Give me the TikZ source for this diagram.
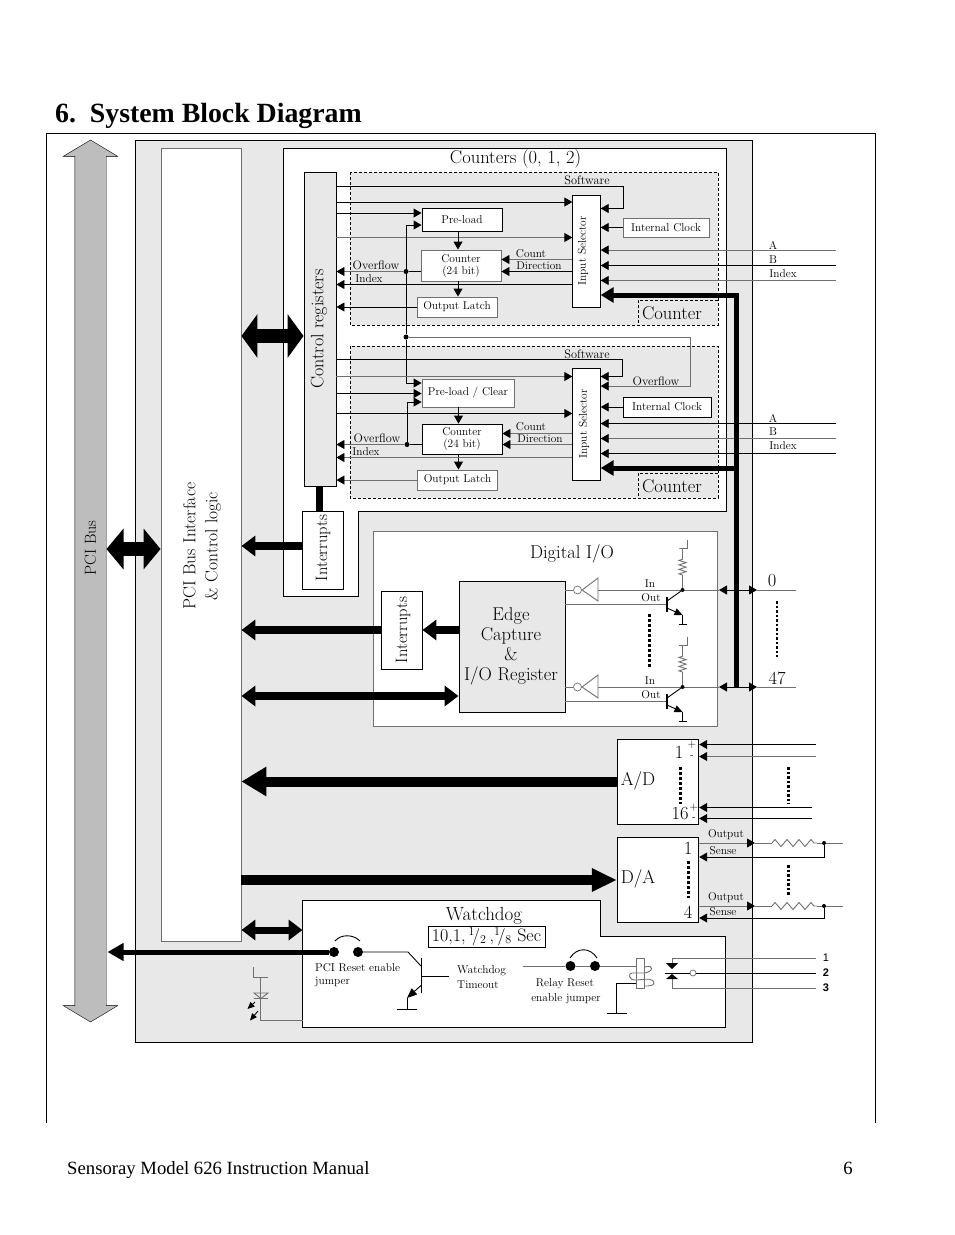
\documentclass[tikz,border=0pt]{standalone}
\usepackage{fontspec}
\newfontfamily\titlefont{Liberation Serif}
\newfontfamily\relayfont{Liberation Sans}
\usetikzlibrary{arrows.meta,shapes.arrows,decorations.pathmorphing}
\definecolor{panelgray}{HTML}{E8E8E8}
\definecolor{busgray}{HTML}{BDBDBD}
\definecolor{linegray}{HTML}{707070}
\tikzset{
  blockbox/.style={draw=black,fill=white,line width=.9pt,inner sep=0pt,align=center},
  grayblock/.style={blockbox,draw=linegray},
  size/.style 2 args={minimum width=#1pt,minimum height=#2pt},
  tinytext/.style={inner sep=0pt,font=\fontsize{11.4}{12}\selectfont,align=center},
  labeltext/.style={inner sep=0pt,font=\fontsize{12.3}{13}\selectfont,align=center},
  bigtext/.style={inner sep=0pt,font=\fontsize{18.5}{20}\selectfont,align=center},
  wire/.style={line width=.9pt},
  gwire/.style={line width=.9pt,draw=linegray},
  tipwire/.style={wire,-{Triangle[length=8pt,width=9pt,black]}},
  gtipwire/.style={gwire,-{Triangle[length=8pt,width=9pt,black]}},
  fatbus/.style n args={3}{line width=#1pt,-{Triangle[length=#2pt,width=#3pt]}},
  fatboth/.style n args={3}{line width=#1pt,{Triangle[length=#2pt,width=#3pt]}-{Triangle[length=#2pt,width=#3pt]}},
  joint/.style={circle,fill=black,inner sep=0pt,minimum size=5pt},
  jumperpin/.style={circle,fill=black,inner sep=0pt,minimum size=10pt},
  dotsline/.style={line width=3pt,dash pattern=on 3pt off 2pt},
  finedots/.style={line width=2.2pt,dash pattern=on 2.5pt off 2pt},
  panel/.style={draw=black,line width=.9pt},
  zig/.style={decorate,decoration={zigzag,segment length=#1,amplitude=3.5pt}},
}
\begin{document}
\begin{tikzpicture}[x=1pt,y=-1pt]
  \useasboundingbox (0,0) rectangle (954,1235);
  % page text
  \node[anchor=base west,inner sep=0pt,font=\titlefont\bfseries\fontsize{27.8}{30}\selectfont] (title) at (55,122) {6.\ \ System Block Diagram};
  \node[anchor=base west,inner sep=0pt,font=\titlefont\fontsize{18.7}{20}\selectfont] (footer) at (67,1174) {Sensoray Model 626 Instruction Manual};
  \node[anchor=base east,inner sep=0pt,font=\titlefont\fontsize{18.7}{20}\selectfont] (pagenum) at (853,1174) {6};
  \draw[panel] (46,1123) -- (46,133) -- (875,133) -- (875,1123);

  % panels
  \draw[panel,fill=panelgray] (135.5,140) rectangle (752,1042);
  \draw[panel,fill=white] (283,148) -- (726,148) -- (726,511) -- (358,511) -- (358,596) -- (283,596) -- cycle;
  \draw[panel,fill=white] (302.5,900.5) -- (600,900.5) -- (600,936.5) -- (725.5,936.5) -- (725.5,1027.5) -- (302.5,1027.5) -- cycle;
  \node[grayblock,size={344}{195}] (dio) at (545,628.5) {};
  \draw[densely dashed,fill=panelgray,line width=.7pt] (350,172) rectangle (718,325);
  \draw[densely dashed,fill=panelgray,line width=.7pt] (350,346) rectangle (718,498);
  \draw[densely dashed,line width=.7pt] (718,300) -- (638,300) -- (638,325);
  \draw[densely dashed,line width=.7pt] (718,473) -- (638,473) -- (638,498);

  % main blocks
  \node[draw=black,fill=busgray,shape=double arrow,rotate=90,minimum height=882pt,minimum width=54pt,
    double arrow head extend=11.5pt,double arrow head indent=0pt,double arrow tip angle=118,inner sep=0pt] (pcibus) at (90.5,581) {\rule{0pt}{31pt}};
  \node[rotate=90,inner sep=0pt,font=\fontsize{16}{18}\selectfont] (pcilabel) at (90.5,548) {PCI Bus};
  \node[grayblock,size={80}{793},] (pciif) at (201,544.5) {};
  \node[rotate=90,bigtext,font=\fontsize{17.5}{22}\selectfont] (pcitext) at (202,546) {PCI Bus Interface\\\& Control logic};
  \node[blockbox,fill=panelgray,size={32}{314}] (ctrl) at (320,329) {};
  \node[rotate=90,bigtext,font=\fontsize{18}{20}\selectfont] (ctrltext) at (319,329) {Control registers};
  \node[blockbox,size={41}{78}] (intc) at (322.5,550) {};
  \node[rotate=90,bigtext,font=\fontsize{16.5}{18}\selectfont] (intctext) at (323,548) {Interrupts};
  \node[blockbox,size={41}{78}] (intd) at (401.5,630) {};
  \node[rotate=90,bigtext,font=\fontsize{16.5}{18}\selectfont] (intdtext) at (403,630) {Interrupts};
  \node[blockbox,fill=panelgray,size={106}{131}] (edge) at (512,646.5) {};
  \node[bigtext] (edgetext) at (511,646) {Edge\\Capture\\\&\\I/O Register};
  \node[blockbox,size={81.5}{85}] (adc) at (658,781.5) {};
  \node[blockbox,size={81.5}{85}] (dac) at (658,879.5) {};
  \node[bigtext] (adctext) at (638,781) {A/D};
  \node[bigtext] (dactext) at (638,879) {D/A};

  % titles
  \node[bigtext] (cnttitle) at (515.5,159) {Counters (0, 1, 2)};
  \node[bigtext] (diotitle) at (572,554) {Digital I/O};
  \node[bigtext,font=\fontsize{19}{20}\selectfont] (wdtitle) at (484,915.5) {Watchdog};
  \node[blockbox,bigtext,font=\fontsize{18}{20}\selectfont,draw=black,line width=.9pt,size={117}{21},inner sep=0pt] (wdtime) at (486.5,936.5) {10,1,\,$^1\!/_2$\,,$^1\!/_8$ Sec};
  \node[bigtext] (cntlabel1) at (672,313) {Counter};
  \node[bigtext] (cntlabel2) at (672,486) {Counter};

  % counter 1 blocks
  \node[blockbox,tinytext,size={80}{23}] (load1) at (462,219.5) {Pre-load};
  \node[grayblock,tinytext,size={80}{31}] (count1) at (461,265.5) {Counter\\(24 bit)};
  \node[grayblock,tinytext,size={80}{20}] (latch1) at (457,307) {Output Latch};
  \node[blockbox,size={27.5}{112}] (sel1) at (586.5,251) {};
  \node[rotate=90,tinytext] (seltext1) at (583,251) {Input Selector};
  \node[grayblock,tinytext,size={86}{19}] (clock1) at (666,227.5) {Internal Clock};
  % counter 2 blocks
  \node[grayblock,tinytext,size={92}{28}] (load2) at (468,393) {Pre-load / Clear};
  \node[blockbox,tinytext,size={80}{30}] (count2) at (462,439) {Counter\\(24 bit)};
  \node[grayblock,tinytext,size={80}{20}] (latch2) at (457.5,480) {Output Latch};
  \node[blockbox,size={27.5}{112}] (sel2) at (586.5,424) {};
  \node[rotate=90,tinytext] (seltext2) at (584,424) {Input Selector};
  \node[blockbox,tinytext,size={88}{20}] (clock2) at (667,407) {Internal Clock};

  % free ends and joints
  \coordinate (a1) at (836,250);
  \coordinate (b1) at (836,265.5);
  \coordinate (i1) at (836,280.5);
  \coordinate (a2) at (836,423.5);
  \coordinate (b2) at (836,438.5);
  \coordinate (i2) at (836,453.5);
  \node[joint] (ovf1) at (406,271.5) {};
  \node[joint] (ovf2) at (407,444.5) {};
  \node[joint] (carry) at (406,337) {};

  % counter 1 wires
  \draw[tipwire] (ctrl.east |- 0,186.5) -| (623,208.5) -- (sel1.east |- 0,208.5);
  \draw[tipwire] (ctrl.east |- 0,202) to (sel1.west |- 0,202);
  \draw[tipwire] (ctrl.east |- 0,213) to (load1.west |- 0,213);
  \draw[gtipwire] (ctrl.east |- 0,237.5) to (sel1.west |- 0,237.5);
  \draw[tipwire] (carry) |- (load1.west |- 0,225);
  \draw[tipwire] (load1.south -| 458,0) to (count1.north -| 458,0);
  \draw[tipwire] (count1.south -| 458,0) to (latch1.north -| 458,0);
  \draw[gtipwire] (sel1.west |- 0,259.5) to (count1.east |- 0,259.5);
  \draw[tipwire] (sel1.west |- 0,271.5) to (count1.east |- 0,271.5);
  \draw[wire] (count1.west |- ovf1) to (ovf1);
  \draw[gtipwire] (ovf1) to (ctrl.east |- ovf1);
  \draw[tipwire] (sel1.west |- 0,284.5) to (ctrl.east |- 0,284.5);
  \draw[tipwire] (latch1) to (ctrl.east |- latch1);
  \draw[tipwire] (clock1) to (sel1.east |- clock1);
  \draw[gtipwire] (a1) to (sel1.east |- a1);
  \draw[tipwire] (b1) to (sel1.east |- b1);
  \draw[gtipwire] (i1) to (sel1.east |- i1);

  % counter 2 wires
  \draw[gtipwire] (carry) -- (690,337) |- (sel2.east |- 0,386);
  \draw[tipwire] (carry) |- (load2.west |- 0,383);
  \draw[tipwire] (ctrl.east |- 0,359.5) -| (622,376.5) -- (sel2.east |- 0,376.5);
  \draw[gtipwire] (ctrl.east |- 0,376.5) to (sel2.west |- 0,376.5);
  \draw[tipwire] (ctrl.east |- 0,393.5) to (load2.west |- 0,393.5);
  \draw[tipwire] (ovf2) |- (load2.west |- 0,402);
  \draw[tipwire] (ctrl.east |- 0,413.5) to (sel2.west |- 0,413.5);
  \draw[tipwire] (load2.south -| 458.5,0) to (count2.north -| 458.5,0);
  \draw[tipwire] (count2.south -| 458.5,0) to (latch2.north -| 458.5,0);
  \draw[gtipwire] (sel2.west |- 0,433.5) to (count2.east |- 0,433.5);
  \draw[gtipwire] (sel2.west |- 0,444.5) to (count2.east |- 0,444.5);
  \draw[wire] (count2.west |- ovf2) to (ovf2);
  \draw[gtipwire] (ovf2) to (ctrl.east |- ovf2);
  \draw[gtipwire] (sel2.west |- 0,457.5) to (ctrl.east |- 0,457.5);
  \draw[gtipwire] (latch2) to (ctrl.east |- latch2);
  \draw[tipwire] (clock2) to (sel2.east |- clock2);
  \draw[tipwire] (a2) to (sel2.east |- a2);
  \draw[gtipwire] (b2) to (sel2.east |- b2);
  \draw[tipwire] (i2) to (sel2.east |- i2);

  % small labels of the counters
  \node[labeltext] (softa) at (587,180) {Software};
  \node[labeltext] (softb) at (587,354) {Software};
  \node[labeltext] (ovftext) at (656,381) {Overflow};
  \node[tinytext] (cta) at (531,254) {Count};
  \node[tinytext] (dira) at (539,265.5) {Direction};
  \node[tinytext] (ctb) at (531,427) {Count};
  \node[tinytext] (dirb) at (540,438.5) {Direction};
  \node[labeltext] (ovfa) at (376,265.5) {Overflow};
  \node[tinytext] (idxa) at (369,279) {Index};
  \node[labeltext] (ovfb) at (377,438.5) {Overflow};
  \node[tinytext] (idxb) at (366,451.5) {Index};
  \node[tinytext] (la) at (773,245) {A};
  \node[tinytext] (lb) at (773,260) {B};
  \node[tinytext] (li) at (783,274) {Index};
  \node[tinytext] (lc) at (773,418) {A};
  \node[tinytext] (ld) at (773,432) {B};
  \node[tinytext] (lj) at (783,446) {Index};

  % digital channels
  \foreach \chy/\chid in {590/a,687/b} {
    \node[draw=linegray,circle,inner sep=0pt,minimum size=8pt,line width=.7pt] (bub\chid) at (577.5,\chy) {};
    \draw[gwire] (598,\chy-12) -- (598,\chy+11) -- (582,\chy) -- cycle;
    \draw[gwire] (edge.east |- bub\chid) to (bub\chid);
    \draw[gwire] (598,\chy) to (719,\chy);
    \draw[tipwire] (735,\chy) to (719,\chy);
    \draw[tipwire] (735,\chy) to (757,\chy);
    \draw[gwire] (757,\chy) to (796,\chy);
    \draw[gwire] (edge.east |- 0,\chy+14) to (667,\chy+14);
    \draw[line width=1.2pt] (667,\chy+7) -- (667,\chy+22);
    \node[joint,minimum size=4pt] (node\chid) at (682.5,\chy) {};
    \draw[wire] (667,\chy+11) -- (node\chid);
    \draw[wire,-{Triangle[length=8pt,width=7pt]}] (667,\chy+18) -- (682.5,\chy+25);
    \draw[wire] (682.5,\chy+25) -- (682.5,\chy+34);
    \draw[wire] (679,\chy+34) -- (687,\chy+34);
    \draw[gwire] (node\chid) -- (682.5,\chy-15);
    \draw[gwire,zig=4.5pt] (682.5,\chy-15) -- (682.5,\chy-32);
    \draw[gwire] (682.5,\chy-32) -- (682.5,\chy-42) -- (679,\chy-42) -- (687,\chy-42) -- (687,\chy-50);
    \node[tinytext] (in\chid) at (650,\chy-6) {In};
    \node[tinytext] (out\chid) at (651,\chy+8) {Out};
  }
  \draw[dotsline] (649,614) -- (649,668);
  \draw[finedots] (777,601) -- (777,657);
  \node[bigtext] (zero) at (772,581) {0};
  \node[bigtext] (fortyseven) at (777,678) {47};

  % thick buses
  \draw[fatboth={14}{16}{43}] (pciif.east |- 0,336) to (ctrl.west |- 0,336);
  \draw[fatboth={14}{17}{40}] (106.5,549) to (pciif.west |- 0,549);
  \draw[fatbus={8}{14}{20}] (intc.west |- 0,546) to (pciif.east |- 0,546);
  \draw[fatbus={8}{14}{20}] (intd.west) to (pciif.east |- intd.west);
  \draw[fatbus={8}{14}{20}] (edge.west |- intd.east) to (intd.east);
  \draw[fatboth={8}{14}{20}] (pciif.east |- 0,696) to (edge.west |- 0,696);
  \draw[fatbus={10}{25}{28}] (adc.west) to (pciif.east |- adc.west);
  \draw[fatbus={10}{25}{22}] (pciif.east |- 0,880) to (dac.west |- 0,880);
  \draw[fatboth={7}{14}{20}] (pciif.east |- 0,930) to (302.5,930);
  \draw[line width=7pt] (ctrl.south -| 319,0) to (intc.north -| 319,0);
  \draw[fatbus={5}{13}{15}] (736,687) |- (sel1.east |- 0,295);
  \draw[fatbus={5}{13}{15}] (736,468) -- (sel2.east |- 0,468);

  % a/d
  \coordinate (adin1) at (816,744.5);
  \coordinate (adin2) at (816,756.5);
  \coordinate (adin3) at (812,807.5);
  \coordinate (adin4) at (812,818.5);
  \draw[tipwire] (adin1) to (adc.east |- adin1);
  \draw[gtipwire] (adin2) to (adc.east |- adin2);
  \draw[tipwire] (adin3) to (adc.east |- adin3);
  \draw[tipwire] (adin4) to (adc.east |- adin4);
  \node[bigtext] (ad1) at (679,752) {1};
  \node[tinytext] (adp1) at (692,745) {+};
  \node[tinytext] (adm1) at (692,757) {-};
  \node[bigtext] (ad16) at (680,814) {16};
  \node[tinytext] (adp2) at (694,808) {+};
  \node[tinytext] (adm2) at (694,819) {-};
  \draw[dotsline] (680,767) -- (680,804);
  \draw[finedots] (788.5,767) -- (788.5,804);

  % d/a
  \foreach \day/\dasense/\daid in {843/857/a,906/918/b} {
    \coordinate (daend\daid) at (843,\day);
    \node[joint,minimum size=4pt] (danode\daid) at (824,\day) {};
    \draw[gtipwire] (dac.east |- 0,\day) to (755,\day);
    \draw[gwire] (755,\day) -- (772,\day);
    \draw[gwire,zig=12pt] (772,\day) -- (817,\day);
    \draw[gwire] (817,\day) -- (danode\daid) -- (daend\daid);
    \draw[tipwire] (danode\daid) |- (dac.east |- 0,\dasense);
    \node[tinytext] (daout\daid) at (726,\day-8) {Output};
  }
  \node[tinytext] (dasensea) at (723,851) {Sense};
  \node[tinytext] (dasenseb) at (723,912) {Sense};
  \node[bigtext] (da1) at (688,848) {1};
  \node[bigtext] (da4) at (688,912) {4};
  \draw[dotsline] (688,861) -- (688,898);
  \draw[finedots] (788.5,865) -- (788.5,895);

  % watchdog
  \node[jumperpin] (pina) at (334,952) {};
  \node[jumperpin] (pinb) at (358,952) {};
  \draw[wire] (335,941) .. controls (341,934) and (353,934) .. (360,941);
  \draw[fatbus={5}{16}{17}] (pina) to (107.5,952);
  \draw[wire] (pinb) -- (408,952) -- (421,966);
  \draw[line width=1.2pt] (421.5,958) -- (421.5,993);
  \draw[wire] (421.5,976) -- (449,976);
  \draw[wire,-{Triangle[length=10pt,width=8pt]}] (421.5,985) -- (407,998);
  \draw[wire] (407,998) -- (407,1009);
  \draw[wire] (397,1009) -- (417,1009);
  \node[tinytext,anchor=west] (pcijump) at (315,968) {PCI Reset enable};
  \node[tinytext,anchor=west] (jumptext) at (315,982) {jumper};
  \node[tinytext,anchor=west] (wdtext) at (457,971) {Watchdog};
  \node[tinytext,anchor=west] (totext) at (457,985) {Timeout};
  \node[tinytext] (relayr) at (565,984) {Relay Reset};
  \node[tinytext] (relaye) at (566,999) {enable jumper};
  % relay
  \node[jumperpin] (pinc) at (570.5,966) {};
  \node[jumperpin] (pind) at (595,966) {};
  \draw[wire] (570,958) .. controls (577,947) and (590,947) .. (597,958);
  \node[grayblock,size={8}{30}] (coil) at (640.5,973) {};
  \draw[gwire] (523,966) -- (pinc) -- (pind) -- (coil.west |- pind);
  \draw[gwire] (coil.east |- 0,967) .. controls (654,964) and (654,972) .. (644,973) -- (632,973) .. controls (628,973) and (628,981) .. (637,980) .. controls (646,979) and (654,978) .. (654,983) .. controls (654,986) and (648,986) .. (645,986);
  \draw[wire] (coil.west |- 0,983) -- (616,983) -- (616,1013);
  \draw[wire] (607,1013) -- (627,1013);
  % contacts
  \coordinate (relay1) at (816,958);
  \coordinate (relay2) at (816,973);
  \coordinate (relay3) at (816,988);
  \node[draw=linegray,circle,inner sep=0pt,minimum size=6pt,line width=.7pt] (wiper) at (693,973) {};
  \draw[gwire] (relay1) -- (672,958) -- (672,963);
  \draw[gwire] (relay3) -- (672,988) -- (672,979);
  \draw[wire] (relay2) -- (wiper);
  \draw[wire] (wiper) -- (665,973);
  \fill (666,963) -- (678,963) -- (672,969) -- cycle;
  \fill (666,979) -- (678,979) -- (672,974) -- cycle;
  \node[inner sep=0pt,font=\relayfont\fontsize{11}{12}\selectfont] (num1) at (826,958) {1};
  \node[inner sep=0pt,font=\relayfont\bfseries\fontsize{11}{12}\selectfont] (num2) at (826,973) {2};
  \node[inner sep=0pt,font=\relayfont\bfseries\fontsize{11}{12}\selectfont] (num3) at (826,988) {3};
  % led
  \coordinate (ledtop) at (260.5,977);
  \draw[gwire] (302.5,1020.5) -- (260.5,1020.5) -- (ledtop);
  \draw[gwire] (253,967) -- (253,977) -- (268,977);
  \draw[gwire] (254,993) -- (268,993) -- (261,998.5) -- cycle;
  \draw[gwire] (254,998.5) -- (268,998.5);
  \draw[wire,-{Triangle[length=7pt,width=6pt]}] (255,1002) -- (247.5,1009);
  \draw[wire,-{Triangle[length=7pt,width=6pt]}] (258,1011) -- (250,1020.5);
\end{tikzpicture}
\end{document}
